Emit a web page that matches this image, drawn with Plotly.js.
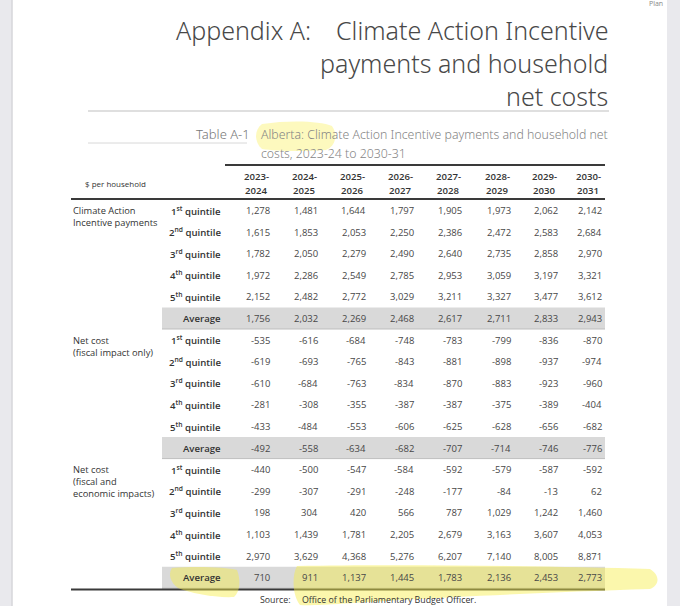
<!DOCTYPE html>
<html>
<head>
<meta charset="utf-8">
<script src="https://cdn.plot.ly/plotly-3.0.1.min.js"></script>
<style>
html,body{margin:0;padding:0;background:#e9e9ed;}
#chart{width:680px;height:606px;}
</style>
</head>
<body>
<div id="chart"></div>
<script>
// ---------------- DATA ----------------
const yearsTop = ["2023-", "2024-", "2025-", "2026-", "2027-", "2028-", "2029-", "2030-"];
const yearsBottom = ["2024", "2025", "2026", "2027", "2028", "2029", "2030", "2031"];
const quintileLabels = ["1<sup>st</sup> quintile", "2<sup>nd</sup> quintile", "3<sup>rd</sup> quintile",
                        "4<sup>th</sup> quintile", "5<sup>th</sup> quintile", "Average"];
const groupLabels = [
  ["Climate Action", "Incentive payments"],
  ["Net cost", "(fiscal impact only)"],
  ["Net cost", "(fiscal and", "economic impacts)"]
];
const incentivePayments = [
  [1278, 1481, 1644, 1797, 1905, 1973, 2062, 2142],
  [1615, 1853, 2053, 2250, 2386, 2472, 2583, 2684],
  [1782, 2050, 2279, 2490, 2640, 2735, 2858, 2970],
  [1972, 2286, 2549, 2785, 2953, 3059, 3197, 3321],
  [2152, 2482, 2772, 3029, 3211, 3327, 3477, 3612],
  [1756, 2032, 2269, 2468, 2617, 2711, 2833, 2943]
];
const netCostFiscal = [
  [-535, -616, -684, -748, -783, -799, -836, -870],
  [-619, -693, -765, -843, -881, -898, -937, -974],
  [-610, -684, -763, -834, -870, -883, -923, -960],
  [-281, -308, -355, -387, -387, -375, -389, -404],
  [-433, -484, -553, -606, -625, -628, -656, -682],
  [-492, -558, -634, -682, -707, -714, -746, -776]
];
const netCostFiscalEconomic = [
  [-440, -500, -547, -584, -592, -579, -587, -592],
  [-299, -307, -291, -248, -177, -84, -13, 62],
  [198, 304, 420, 566, 787, 1029, 1242, 1460],
  [1103, 1439, 1781, 2205, 2679, 3163, 3607, 4053],
  [2970, 3629, 4368, 5276, 6207, 7140, 8005, 8871],
  [710, 911, 1137, 1445, 1783, 2136, 2453, 2773]
];
const titleLeft = "Appendix A:";
const titleRight = ["Climate Action Incentive", "payments and household", "net costs"];
const tableNumber = "Table A-1";
const tableCaption = ["Alberta: Climate Action Incentive payments and household net", "costs, 2023-24 to 2030-31"];
const unitLabel = "$ per household";
const sourceLabel = "Source:";
const sourceText = "Office of the Parliamentary Budget Officer.";
const cornerText = "Plan";

// ---------------- LAYOUT CONSTANTS ----------------
const groups = [incentivePayments, netCostFiscal, netCostFiscalEconomic];
const colRight = [270, 318, 366, 414, 462, 511, 558, 602];
const rowY0 = 210.5, rowStep = 21.6;
const labelRight = 221;
const groupLabelX = 73;
const FONT = "Open Sans, Noto Sans, sans-serif";
const LIGHT = "Noto Sans, Open Sans, sans-serif";
const txtDark = "#333333";
const valColor = "#474747";

function fmt(v) {
  const s = Math.abs(v).toString().replace(/\B(?=(\d{3})+(?!\d))/g, ",");
  return (v < 0 ? "-" : "") + s;
}

const annotations = [];
const shapes = [];
function ann(text, x, y, opts) {
  annotations.push(Object.assign({
    text: text, x: x, y: y, xref: "x", yref: "y", showarrow: false,
    xanchor: "left", yanchor: "middle", borderpad: 0, borderwidth: 0,
    font: {family: FONT, size: 10, color: txtDark}
  }, opts || {}));
}

// page background
shapes.push({type: "rect", xref: "x", yref: "y", x0: 12, x1: 667, y0: 0, y1: 606,
  fillcolor: "#ffffff", line: {width: 0}, layer: "below"});
shapes.push({type: "line", xref: "x", yref: "y", x0: 12, x1: 12, y0: 0, y1: 606,
  line: {color: "#d6d6da", width: 1.5}, layer: "below"});

// corner text
ann(cornerText, 663, 3, {xanchor: "right", font: {family: FONT, size: 7, color: "#888"}});

// titles
const titleFont = {family: LIGHT, size: 25, color: "#484848", weight: 300};
ann(titleLeft, 176, 30, {font: titleFont});
titleRight.forEach((t, i) => ann(t, 608, 30 + i * 33, {xanchor: "right", font: titleFont}));
shapes.push({type: "line", xref: "x", yref: "y", x0: 88, x1: 609, y0: 111, y1: 111,
  line: {color: "#d4d4d4", width: 1.5}});

// table caption
shapes.push({type: "path", xref: "x", yref: "y",
  path: "M 262,124 C 290,120 320,121 332,126 C 338,134 336,146 326,150 C 300,152 275,151 262,149 C 254,142 254,130 262,124 Z",
  fillcolor: "rgba(250,242,110,0.45)", line: {width: 0}});
const capFont = {family: LIGHT, size: 12.3, color: "#858585", weight: 300};
ann(tableNumber, 250, 134, {xanchor: "right", font: Object.assign({}, capFont, {size: 13, color: "#777"})});
shapes.push({type: "line", xref: "x", yref: "y", x0: 88, x1: 247, y0: 143, y1: 143,
  line: {color: "#d8d8d8", width: 1}});
tableCaption.forEach((t, i) => ann(t, 261, 134 + i * 19, {font: capFont}));

// table rules
shapes.push({type: "line", xref: "x", yref: "y", x0: 225, x1: 605, y0: 165, y1: 165,
  line: {color: "#3a3a3a", width: 2}});
shapes.push({type: "line", xref: "x", yref: "y", x0: 71, x1: 605, y0: 199, y1: 199,
  line: {color: "#3a3a3a", width: 2}});
shapes.push({type: "line", xref: "x", yref: "y", x0: 71, x1: 605, y0: 589.5, y1: 589.5,
  line: {color: "#3a3a3a", width: 2}});

// header
const semi = {family: FONT, size: 9.6, color: txtDark, weight: 600};
ann(unitLabel, 85, 183, {font: {family: FONT, size: 8, color: txtDark}});
yearsTop.forEach((t, j) => {
  ann(t, colRight[j] - 14, 176, {xanchor: "center", font: semi});
  ann(yearsBottom[j], colRight[j] - 14, 190, {xanchor: "center", font: semi});
});

// body
groups.forEach((g, gi) => {
  const base = gi * 6;
  const yAvg = rowY0 + (base + 5) * rowStep;
  shapes.push({type: "rect", xref: "x", yref: "y", x0: 162, x1: 605, y0: yAvg - 11, y1: yAvg + 10.5,
    fillcolor: "#d9d9d9", line: {width: 0}, layer: "below"});
  shapes.push({type: "line", xref: "x", yref: "y", x0: 162, x1: 605, y0: yAvg + 10.5, y1: yAvg + 10.5,
    line: {color: "#bdbdbd", width: 1}, layer: "below"});
  groupLabels[gi].forEach((t, li) => ann(t, groupLabelX, rowY0 + base * rowStep + li * 12,
    {font: {family: FONT, size: 9.3, color: txtDark}}));
  g.forEach((row, ri) => {
    const y = rowY0 + (base + ri) * rowStep;
    ann(quintileLabels[ri], labelRight, y, {xanchor: "right", font: semi});
    row.forEach((v, j) => ann(fmt(v), colRight[j], y, {xanchor: "right", font: {family: FONT, size: 9.5, color: valColor}}));
  });
});

// highlighter strokes
shapes.push({type: "path", xref: "x", yref: "y",
  path: "M 172,568 C 195,566 225,567 237,570 C 241,580 240,592 234,597 C 215,598 190,593 178,588 C 170,582 168,574 172,568 Z",
  fillcolor: "rgba(246,238,70,0.45)", line: {width: 0}});
shapes.push({type: "path", xref: "x", yref: "y",
  path: "M 297,566 C 400,564 550,566 650,569 C 660,575 660,585 650,589 C 560,592 470,596 400,600 C 350,603 315,606 300,605 C 292,595 292,575 297,566 Z",
  fillcolor: "rgba(246,238,70,0.45)", line: {width: 0}});

// source
ann(sourceLabel, 291, 599.5, {xanchor: "right", font: {family: FONT, size: 8.8, color: txtDark}});
ann(sourceText, 302, 599.5, {font: {family: FONT, size: 8.8, color: txtDark}});

const layout = {
  width: 680, height: 606,
  margin: {l: 0, r: 0, t: 0, b: 0},
  paper_bgcolor: "#e9e9ed", plot_bgcolor: "rgba(0,0,0,0)",
  showlegend: false,
  xaxis: {range: [0, 680], visible: false, fixedrange: true},
  yaxis: {range: [606, 0], visible: false, fixedrange: true},
  annotations: annotations,
  shapes: shapes
};
Plotly.newPlot("chart", [{x: [], y: [], type: "scatter", mode: "markers", hoverinfo: "skip"}], layout,
  {displayModeBar: false, staticPlot: true});
</script>
</body>
</html>
